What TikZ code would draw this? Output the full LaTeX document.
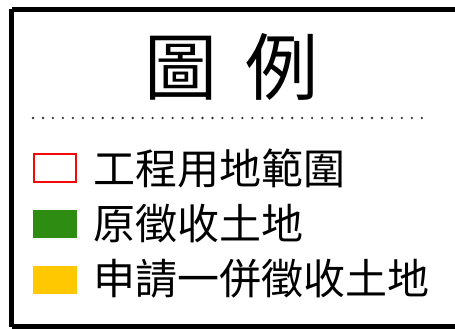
\documentclass[tikz,border=0pt]{standalone}
\usepackage{fontspec}
\newfontfamily\cjk{Noto Sans CJK TC}
\definecolor{legred}{RGB}{240,10,10}
\definecolor{leggreen}{RGB}{46,140,18}
\definecolor{legyellow}{RGB}{255,200,0}
\begin{document}
\begin{tikzpicture}[x=1pt,y=-1pt,
  frame/.style={draw=black,line width=5.5pt},
  swatch/.style={minimum width=44pt,minimum height=28pt,inner sep=0pt,outer sep=0pt},
  itemtext/.style={anchor=base west,inner sep=0pt,font=\cjk\fontsize{42}{42}\selectfont},
  titletext/.style={anchor=base,inner sep=0pt,font=\cjk\fontsize{73}{73}\selectfont},
  dot/.style={fill=black!80,circle,inner sep=0pt,minimum size=2.6pt}]
\useasboundingbox (0,0) rectangle (455,329);
\clip (0,0) rectangle (455,329);
\fill[white] (0,0) rectangle (455,329);
\draw[frame] (11.5,9.5) -- (520,9.5);
\draw[frame] (11.5,326.5) -- (520,326.5);
\draw[frame] (11.5,9.5) -- (11.5,326.5);
% title
\node[titletext] (t1) at (181,94) {圖};
\node[titletext] (t2) at (282,94) {例};
% dotted separator
\foreach \i in {0,...,39} {
  \node[dot] (d\i) at ({33+\i*9.97},118) {};
}
% legend items
\node[swatch,draw=legred,line width=2.3pt,minimum width=41.7pt,minimum height=27.7pt] (s1) at (55,168) {};
\node[swatch,fill=leggreen] (s2) at (55,224) {};
\node[swatch,fill=legyellow] (s3) at (55,280) {};
\node[itemtext] (l1) at (93,184) {工程用地範圍};
\node[itemtext] (l2) at (93,239) {原徵收土地};
\node[itemtext] (l3) at (93,294) {申請一併徵收土地};
\end{tikzpicture}
\end{document}
